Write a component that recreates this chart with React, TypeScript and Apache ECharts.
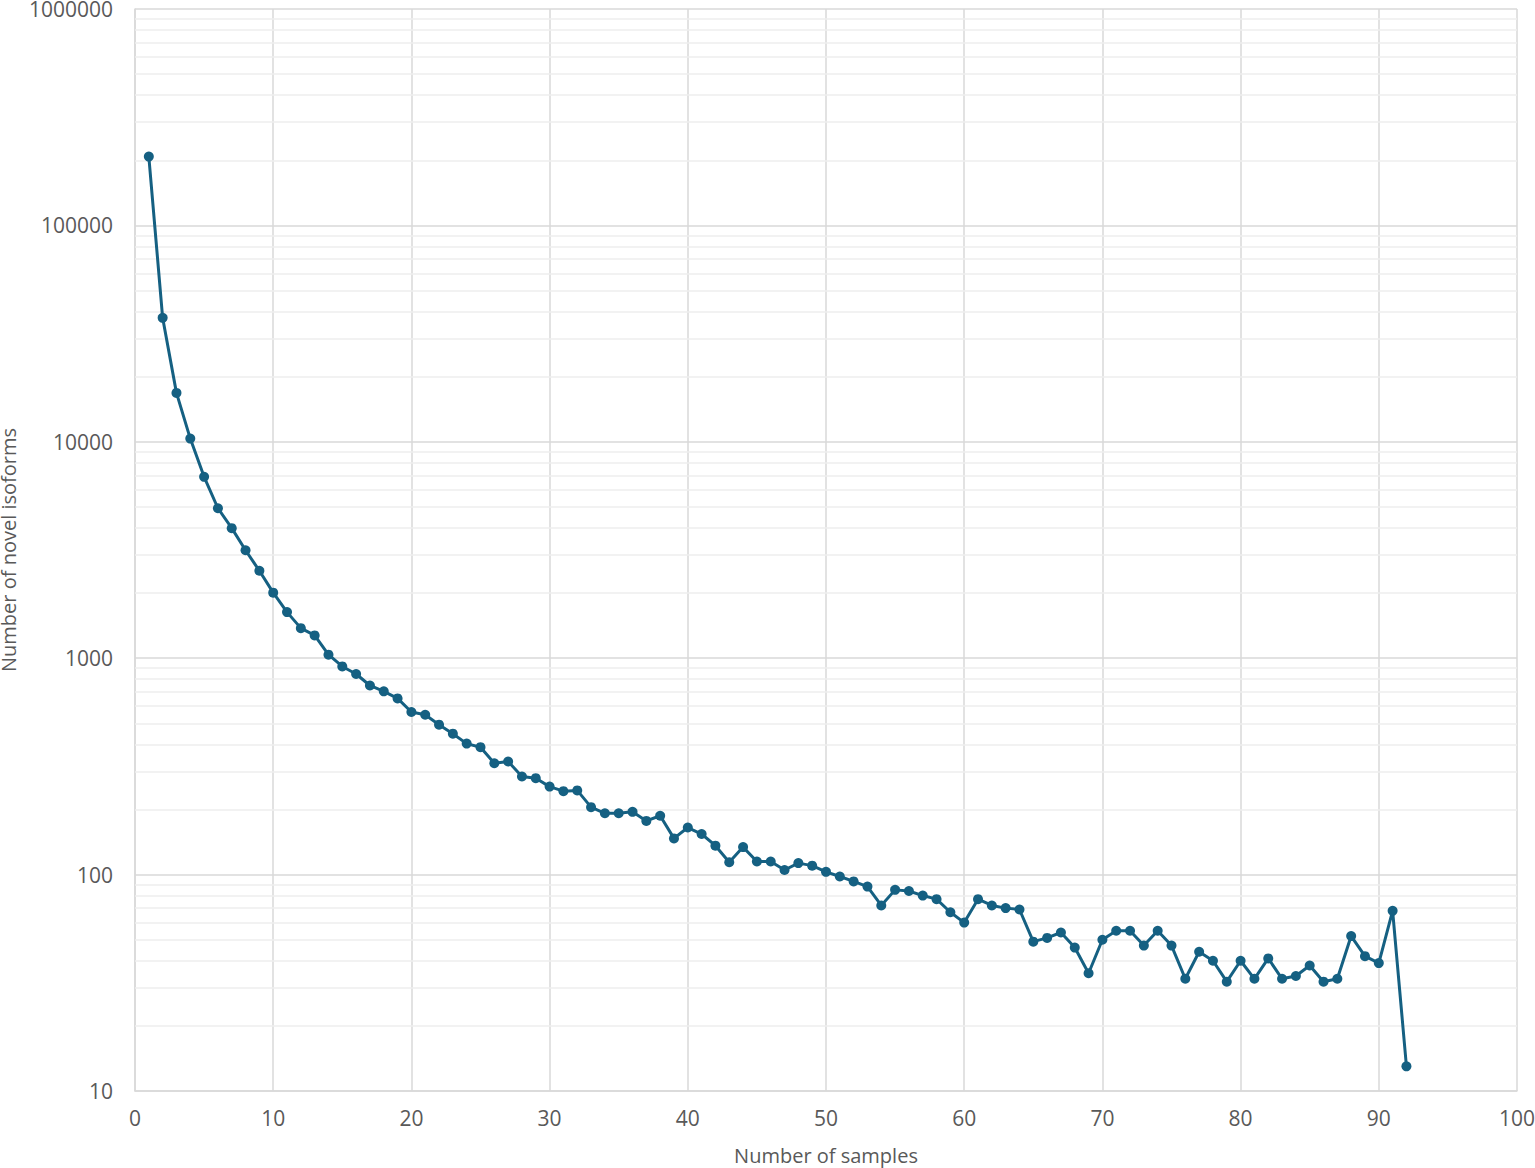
import React, { useEffect, useRef } from "react";
import * as echarts from "echarts";

const SAMPLES: number[] = Array.from({ length: 92 }, (_, i) => i + 1);

const NOVEL_ISOFORMS: number[] = [
  208000, 37400, 16830, 10350, 6890, 4930, 3990, 3155, 2535, 2009,
  1633, 1377, 1274, 1038, 916, 845, 748, 703, 652, 564,
  548, 493, 448, 403, 388, 327, 333, 284, 279, 255,
  243, 245, 205, 192, 192, 195, 177, 187, 147, 165,
  154, 136, 114, 134, 115, 115, 105, 113, 110, 103,
  98, 93, 88, 72, 85, 84, 80, 77, 67, 60,
  77, 72, 70, 69, 49, 51, 54, 46, 35, 50,
  55, 55, 47, 55, 47, 33, 44, 40, 32, 40,
  33, 41, 33, 34, 38, 32, 33, 52, 42, 39,
  68, 13,
];

const MINOR_GRID_VALUES: number[] = [
  20, 30, 40, 50, 60, 70, 80, 90,
  200, 300, 400, 500, 600, 700, 800, 900,
  2000, 3000, 4000, 5000, 6000, 7000, 8000, 9000,
  20000, 30000, 40000, 50000, 60000, 70000, 80000, 90000,
  200000, 300000, 400000, 500000, 600000, 700000, 800000, 900000,
];

const X_MIN = 0;
const X_MAX = 100;
const X_INTERVAL = 10;
const Y_MIN = 10;
const Y_MAX = 1000000;

const X_TITLE = "Number of samples";
const Y_TITLE = "Number of novel isoforms";

const FONT = "'Open Sans', 'Noto Sans', sans-serif";
const TEXT_COLOR = "#595959";
const LINE_COLOR = "#156082";

export default function App() {
  const ref = useRef<HTMLDivElement>(null);

  useEffect(() => {
    if (!ref.current) return;
    const chart = echarts.init(ref.current, null, { renderer: "svg" });
    const points = SAMPLES.map((s, i) => [s, NOVEL_ISOFORMS[i]]);
    chart.setOption({
      animation: false,
      backgroundColor: "#ffffff",
      textStyle: { fontFamily: FONT },
      grid: {
        left: 135,
        right: 18,
        top: 9,
        bottom: 77,
        containLabel: false,
        outerBoundsMode: "none",
      },
      xAxis: {
        type: "value",
        min: X_MIN,
        max: X_MAX,
        interval: X_INTERVAL,
        name: X_TITLE,
        nameLocation: "middle",
        nameGap: 54,
        nameTextStyle: { color: TEXT_COLOR, fontSize: 20, fontFamily: FONT },
        axisLine: { show: true, lineStyle: { color: "#d9d9d9", width: 1.5 } },
        axisTick: { show: false },
        axisLabel: { color: TEXT_COLOR, fontSize: 21, fontFamily: FONT, margin: 16 },
        splitLine: { show: true, lineStyle: { color: "#d9d9d9", width: 1.5 } },
      },
      yAxis: {
        type: "log",
        logBase: 10,
        min: Y_MIN,
        max: Y_MAX,
        name: Y_TITLE,
        nameLocation: "middle",
        nameRotate: 90,
        nameGap: 115,
        nameTextStyle: { color: TEXT_COLOR, fontSize: 20, fontFamily: FONT },
        axisLine: { show: true, lineStyle: { color: "#d9d9d9", width: 1.5 } },
        axisTick: { show: false },
        axisLabel: {
          color: TEXT_COLOR,
          fontSize: 21,
          fontFamily: FONT,
          margin: 22,
          formatter: (v: number) => String(Math.round(v)),
        },
        splitLine: { show: true, lineStyle: { color: "#d9d9d9", width: 1.5 } },
      },
      series: [
        {
          type: "line",
          data: points,
          z: 3,
          symbol: "circle",
          symbolSize: 10,
          showSymbol: true,
          lineStyle: { color: LINE_COLOR, width: 3 },
          itemStyle: { color: LINE_COLOR, borderWidth: 0 },
          markLine: {
            z: 1,
            silent: true,
            symbol: ["none", "none"],
            label: { show: false },
            lineStyle: { color: "#eeeeee", type: "solid", width: 1.5 },
            emphasis: { disabled: true },
            data: MINOR_GRID_VALUES.map((v) => ({ yAxis: v })),
          },
        },
      ],
    });
    return () => chart.dispose();
  }, []);

  return (
    <div
      ref={ref}
      style={{ position: "absolute", left: 0, top: 0, width: 1535, height: 1168 }}
    />
  );
}
